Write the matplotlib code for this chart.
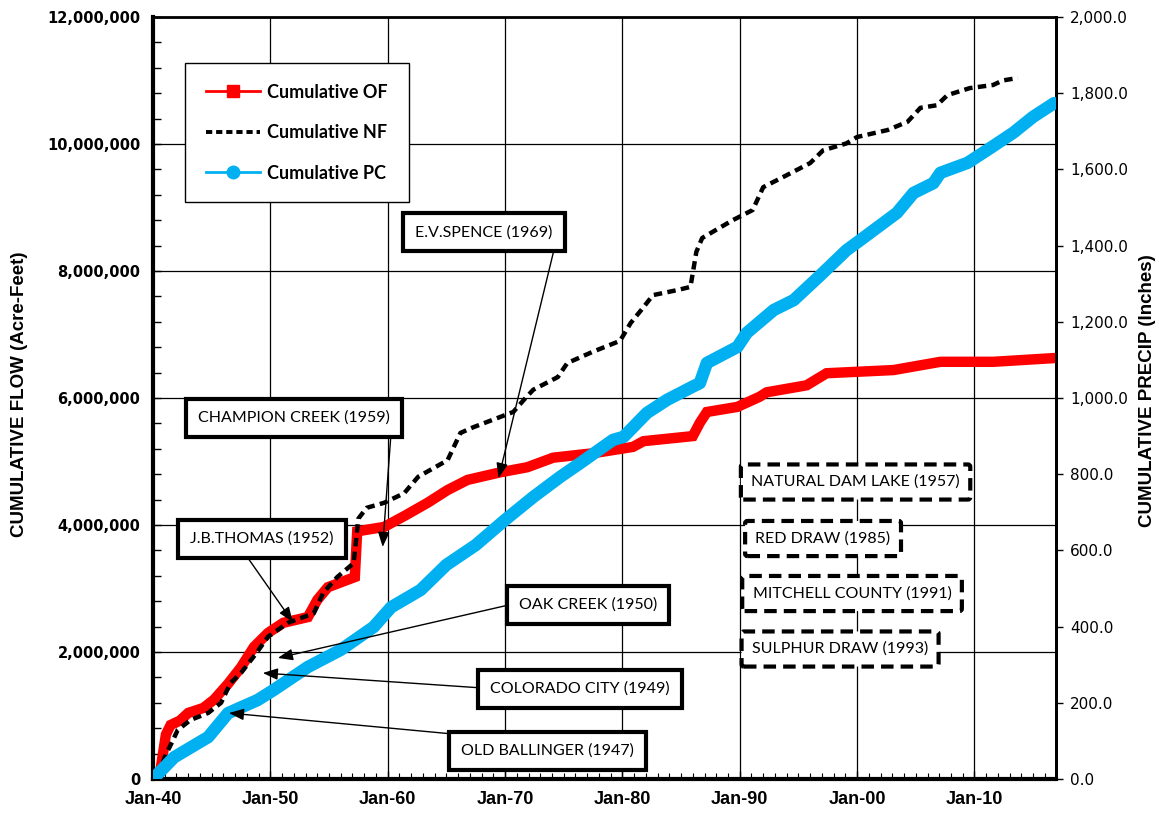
import matplotlib
matplotlib.use("Agg")
import matplotlib.pyplot as plt
from matplotlib.lines import Line2D
from matplotlib.ticker import MultipleLocator, FuncFormatter, FixedLocator

# Cumulative original flow (acre-feet)
of_year = [1940.0, 1940.6, 1941.1, 1941.5, 1942.3, 1943.0, 1944.3, 1945.2, 1946.4, 1947.5,
           1948.6, 1949.8, 1951.1, 1953.2, 1954.0, 1954.9, 1957.2, 1957.4, 1959.7, 1961.5,
           1963.4, 1965.1, 1966.8, 1969.6, 1971.9, 1974.1, 1977.5, 1980.9, 1981.8, 1986.0,
           1986.6, 1987.2, 1989.8, 1991.7, 1992.3, 1995.7, 1997.4, 2003.1, 2007.1, 2011.6,
           2016.9]
of_flow = [0, 100000, 700000, 850000, 920000, 1040000, 1120000, 1250000, 1500000, 1760000,
           2080000, 2300000, 2460000, 2550000, 2820000, 3020000, 3180000, 3900000, 3970000, 4150000,
           4350000, 4550000, 4710000, 4830000, 4910000, 5060000, 5130000, 5230000, 5320000, 5400000,
           5610000, 5780000, 5860000, 6020000, 6090000, 6200000, 6390000, 6440000, 6570000, 6570000,
           6630000]

# Cumulative naturalized flow (acre-feet)
nf_year = [1940.5, 1941.0, 1941.7, 1942.1, 1943.2, 1944.7, 1945.8, 1946.6, 1947.5, 1948.8,
           1949.8, 1951.5, 1953.7, 1954.5, 1955.7, 1957.1, 1957.5, 1958.2, 1959.7, 1961.4,
           1962.6, 1965.1, 1966.2, 1967.3, 1970.7, 1971.6, 1972.4, 1974.5, 1975.3, 1977.5,
           1979.8, 1980.7, 1981.8, 1982.6, 1984.7, 1985.8, 1986.3, 1986.8, 1989.4, 1991.1,
           1992.0, 1993.7, 1996.0, 1997.1, 1999.1, 2000.0, 2002.6, 2004.3, 2005.4, 2006.8,
           2007.7, 2009.6, 2011.6, 2012.4, 2013.7]
nf_flow = [50000, 350000, 610000, 770000, 930000, 1040000, 1200000, 1510000, 1670000, 1980000,
           2240000, 2460000, 2610000, 2930000, 3180000, 3400000, 4100000, 4270000, 4350000, 4500000,
           4760000, 5020000, 5450000, 5540000, 5780000, 5970000, 6130000, 6330000, 6550000, 6730000,
           6900000, 7180000, 7430000, 7620000, 7700000, 7750000, 8300000, 8520000, 8800000, 8960000,
           9320000, 9480000, 9700000, 9900000, 10010000, 10110000, 10220000, 10350000, 10570000, 10610000,
           10770000, 10880000, 10930000, 11000000, 11040000]

# Cumulative precipitation (inches)
pc_year = [1940.0, 1941.8, 1944.7, 1946.4, 1948.9, 1950.3, 1953.2, 1956.0, 1958.8, 1960.3,
           1962.8, 1965.0, 1967.5, 1970.0, 1972.4, 1974.7, 1976.4, 1979.2, 1980.1, 1982.1,
           1983.8, 1986.0, 1986.6, 1987.2, 1989.8, 1990.6, 1992.9, 1994.6, 1996.9, 1999.1,
           2000.3, 2003.4, 2004.8, 2006.5, 2007.1, 2009.4, 2011.1, 2013.3, 2015.0, 2016.8]
pc_inches = [0, 57, 110, 173, 207, 234, 294, 339, 399, 451,
             496, 562, 614, 680, 740, 793, 829, 890, 898, 961,
             995, 1030, 1039, 1092, 1134, 1171, 1231, 1257, 1323, 1388,
             1415, 1486, 1538, 1564, 1591, 1617, 1651, 1696, 1738, 1774]

decades = [1940, 1950, 1960, 1970, 1980, 1990, 2000, 2010]
decade_labels = ["Jan-40", "Jan-50", "Jan-60", "Jan-70", "Jan-80", "Jan-90", "Jan-00", "Jan-10"]

# reservoir callouts: (label, box centre, arrow start, arrow tip)
reservoirs = [
    ("E.V.SPENCE (1969)", (1968.2, 8.61e6), (1974.1, 8.28e6), (1969.45, 4.74e6)),
    ("CHAMPION CREEK (1959)", (1952.0, 5.685e6), (1960.26, 5.386e6), (1959.57, 3.654e6)),
    ("J.B.THOMAS (1952)", (1949.28, 3.78e6), (1948.09, 3.48e6), (1951.91, 2.472e6)),
    ("OAK CREEK (1950)", (1977.1, 2.74e6), (1970.3, 2.74e6), (1950.64, 1.906e6)),
    ("COLORADO CITY (1949)", (1976.4, 1.417e6), (1968.09, 1.433e6), (1949.36, 1.669e6)),
    ("OLD BALLINGER (1947)", (1973.6, 0.441e6), (1965.53, 0.709e6), (1946.47, 1.039e6)),
]
other_reservoirs = [
    ("NATURAL DAM LAKE (1957)", (1999.87, 4.677e6)),
    ("RED DRAW (1985)", (1997.1, 3.787e6)),
    ("MITCHELL COUNTY (1991)", (1999.57, 2.921e6)),
    ("SULPHUR DRAW (1993)", (1998.55, 2.047e6)),
]

RED = "#ff0000"
BLUE = "#00b0f0"
box_font = ["Lato", "DejaVu Sans"]
narrow_bold = ["Liberation Sans Narrow", "Liberation Sans", "DejaVu Sans"]

fig = plt.figure(figsize=(11.59, 8.17), dpi=100)
ax = fig.add_axes([153 / 1159, 38 / 817, 903 / 1159, 762 / 817])
ax2 = ax.twinx()

ax.plot(of_year, of_flow, color=RED, lw=7.5, solid_joinstyle="miter", zorder=3)
ax.plot(nf_year, nf_flow, color="black", lw=3.2, dashes=(1.9, 1.2), zorder=4)
ax2.plot(pc_year, pc_inches, color=BLUE, lw=9, solid_capstyle="round",
         solid_joinstyle="round", zorder=3)

ax.set_xlim(1940, 2016.95)
ax.set_ylim(0, 12000000)
ax2.set_ylim(0, 2000)

ax.xaxis.set_major_locator(FixedLocator(decades))
ax.set_xticklabels(decade_labels, fontfamily=narrow_bold, fontweight="bold", fontsize=13)
ax.xaxis.set_minor_locator(MultipleLocator(1))
ax.yaxis.set_major_locator(MultipleLocator(2000000))
ax.yaxis.set_minor_locator(MultipleLocator(400000))
ax.yaxis.set_major_formatter(FuncFormatter(lambda v, p: f"{v:,.0f}"))
for lbl in ax.get_yticklabels():
    lbl.set_fontweight("bold")
    lbl.set_fontsize(10.5)
ax.tick_params(axis="y", which="both", direction="in", length=6, width=1, pad=9, right=False)
ax.tick_params(axis="x", which="major", direction="in", length=6, width=1, pad=9, top=False)
ax.tick_params(axis="x", which="minor", direction="in", length=4, width=0.8, top=False)
ax.grid(True, which="major", color="black", lw=0.9)

ax2.yaxis.set_major_locator(MultipleLocator(200))
ax2.yaxis.set_major_formatter(FuncFormatter(lambda v, p: f"{v:,.1f}"))
ax2.tick_params(axis="y", direction="out", length=5, width=1, pad=5, labelsize=11)

for side, w in [("left", 3), ("bottom", 3), ("top", 2), ("right", 2)]:
    ax.spines[side].set_linewidth(w)
ax2.spines["right"].set_linewidth(2)

ax.set_ylabel("CUMULATIVE FLOW (Acre-Feet)", fontfamily=narrow_bold,
              fontweight="bold", fontsize=13.5)
ax.yaxis.set_label_coords(-0.1384, 0.505)
ax2.set_ylabel("CUMULATIVE PRECIP (Inches)", fontfamily=narrow_bold,
               fontweight="bold", fontsize=13.5)
ax2.yaxis.set_label_coords(1.0919, 0.51)

# callout boxes with arrows pointing at the flow curves
for name, centre, start, tip in reservoirs:
    ax2.annotate("", xy=tip, xycoords=ax.transData, xytext=start, textcoords=ax.transData,
                 arrowprops=dict(arrowstyle="-|>,head_length=0.9,head_width=0.35",
                                 color="black", lw=1, shrinkA=0, shrinkB=0), zorder=6)
    ax2.text(*centre, name, transform=ax.transData, ha="center", va="center",
             fontsize=11.5, fontfamily=box_font, zorder=7,
             bbox=dict(boxstyle="square,pad=0.75", fc="white", ec="black", lw=3))

for name, centre in other_reservoirs:
    ax2.text(*centre, name, transform=ax.transData, ha="center", va="center",
             fontsize=11.5, fontfamily=box_font, zorder=7,
             bbox=dict(boxstyle="round,pad=0.65,rounding_size=0.15", fc="white", ec="black",
                       lw=3, ls=(0, (3.0, 1.7))))

handles = [
    Line2D([], [], color=RED, lw=2, marker="s", markersize=8),
    Line2D([], [], color="black", lw=2.8, dashes=(1.6, 1.0)),
    Line2D([], [], color=BLUE, lw=2, marker="o", markersize=9),
]
leg = ax2.legend(handles, ["Cumulative OF", "Cumulative NF", "Cumulative PC"],
                 loc="upper left", bbox_to_anchor=(0.0354, 0.9396), borderaxespad=0,
                 fancybox=False, edgecolor="black", framealpha=1, borderpad=1.15,
                 labelspacing=1.3, handlelength=3.0, handletextpad=0.4,
                 prop=dict(family=box_font, weight="bold", size=13))
leg.get_frame().set_linewidth(1)

fig.savefig("out.png", dpi=100)
